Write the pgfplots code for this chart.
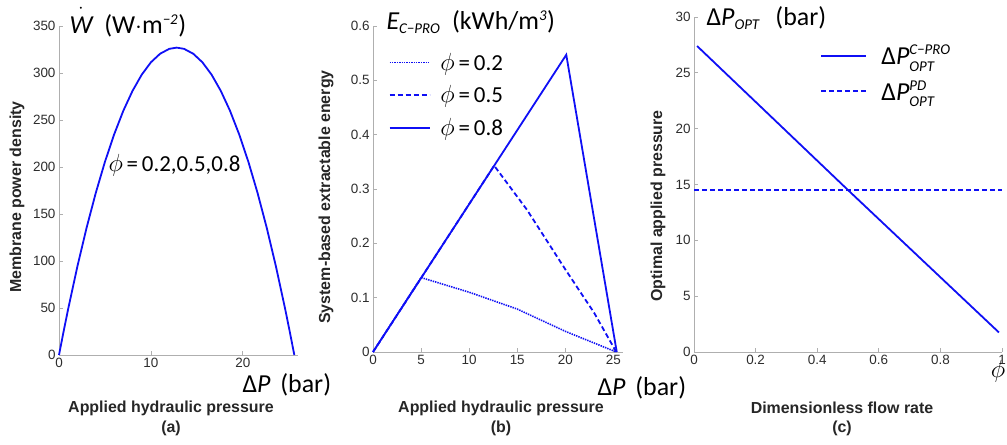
\documentclass[border=0pt]{standalone}
\usepackage{pgfplots}
\pgfplotsset{compat=1.18}
\usepackage{fontspec}
\setmainfont{Liberation Sans}
\newfontfamily\calib{Carlito}
\definecolor{lineblue}{RGB}{15,15,245}
\definecolor{axgray}{RGB}{175,175,175}
\definecolor{tickgray}{RGB}{45,45,45}
\pgfplotsset{
  mystyle/.style={
    scale only axis, anchor=south west,
    axis lines=left, axis line style={-, draw=axgray, line width=0.9bp},
    tick align=inside, major tick length=4bp, tick style={draw=axgray, line width=0.8bp},
    tick label style={font=\fontsize{13.5}{13.5}\selectfont, text=tickgray},
    /pgf/number format/assume math mode=true,
    clip=false,
    legend cell align=left,
  },
  bl/.style={draw=lineblue, color=lineblue, line width=1.8bp, no marks},
}
\newcommand{\blab}{\bfseries\fontsize{16}{16}\selectfont\color{black!85}}
\newcommand{\myBigLab}{\calib\fontsize{26}{26}\selectfont}
\newcommand{\ci}[1]{\mbox{\calib\itshape #1}}
\newcommand{\cis}[1]{\mbox{\calib\itshape\fontsize{15}{15}\selectfont #1}}
\begin{document}
\begin{tikzpicture}[x=1bp,y=1bp]
\path[use as bounding box] (0,0) rectangle (1007,445);
% ---------- (a)
\begin{axis}[mystyle, at={(59bp,90bp)}, width=239bp, height=329bp,
  xmin=0, xmax=26, ymin=0, ymax=350,
  xtick={0,10,20}, ytick={0,50,...,350}]
\addplot[bl] coordinates {(0,0) (0.5,25.0) (1,49.1) (2,94.2) (3,135.3) (4,172.4) (5,205.6) (6,234.7) (7,259.9) (8,281.0) (9,298.2) (10,311.4) (11,320.5) (12,325.7) (12.8,327) (13.6,325.7) (14.6,320.5) (15.6,311.4) (16.6,298.2) (17.6,281.0) (18.6,259.9) (19.6,234.7) (20.6,205.6) (21.6,172.4) (22.6,135.3) (23.6,94.2) (24.6,49.1) (25.1,25.0) (25.6,0)};
\end{axis}
\node[anchor=base west] at (66,411) {\myBigLab $\dot{\vphantom{\rule{0pt}{21bp}}\ci{W}}$\ \ (W$\cdot$m$^{\cis{−2}}$)};
\node[anchor=west] at (105,280) {\calib\fontsize{23}{23}\selectfont $\phi$\,=\,0.2,0.5,0.8};
\node[anchor=west] at (239,60) {\myBigLab Δ\textit{P}\hspace{4bp} (bar)};
\node at (171,37) {\blab Applied hydraulic pressure};
\node at (171,17) {\blab (a)};
\node[rotate=90] at (17,248) {\blab Membrane power density};
% ---------- (b)
\begin{axis}[mystyle, at={(373bp,93bp)}, width=250bp, height=326bp,
  xmin=0, xmax=26, ymin=0, ymax=0.6,
  xtick={0,5,...,25}, ytick={0,0.1,...,0.6},
  legend style={draw=none, fill=none, at={(axis description cs:0.05,0.93)}, anchor=north west,
    font=\calib\fontsize{23}{23}\selectfont, row sep=10bp},
  legend image code/.code={\draw[#1] (0bp,0bp) -- (40bp,0bp);}]
\addplot[bl, line width=1.6bp, dash pattern=on 1.4bp off 1bp] coordinates {(0,0) (5.0,0.137) (10,0.110) (15,0.079) (20,0.038) (25.3,0)};
\addlegendentry{\hspace{8bp}$\phi$\,=\,0.2}
\addplot[bl, dash pattern=on 5bp off 3bp] coordinates {(0,0) (12.6,0.343) (16,0.262) (20,0.152) (23,0.072) (25.3,0)};
\addlegendentry{\hspace{8bp}$\phi$\,=\,0.5}
\addplot[bl] coordinates {(0,0) (20.1,0.547) (25.35,0)};
\addlegendentry{\hspace{8bp}$\phi$\,=\,0.8}
\end{axis}
\node[anchor=west] at (383,423) {\myBigLab \ci{E}$_{\cis{C−PRO}}$\ \ (kWh/m$^{\cis{3}}$)};
\node[anchor=west] at (594,57) {\myBigLab Δ\textit{P}\hspace{4bp} (bar)};
\node at (501,37) {\blab Applied hydraulic pressure};
\node at (501,17) {\blab (b)};
\node[rotate=90] at (326,248) {\blab System-based extractable energy};
% ---------- (c)
\begin{axis}[mystyle, at={(694bp,93bp)}, width=308bp, height=335bp,
  xmin=0, xmax=1, ymin=0, ymax=30,
  xtick={0,0.2,...,1}, ytick={0,5,...,30},
  xticklabels={0,0.2,0.4,0.6,0.8,1},
  legend style={draw=none, fill=none, at={(axis description cs:0.40,0.928)}, anchor=north west,
    font=\calib\fontsize{26}{26}\selectfont, row sep=10bp},
  legend image code/.code={\draw[#1] (0bp,0bp) -- (45bp,0bp);}]
\addplot[bl] coordinates {(0.01,27.4) (0.5,14.5) (0.99,1.75)};
\addlegendentry{\hspace{12bp}Δ$\ci{P}^{\cis{C−PRO}}_{\cis{OPT}}$}
\addplot[bl, line width=2bp, dash pattern=on 5bp off 3bp] coordinates {(0,14.55) (1,14.55)};
\addlegendentry{\hspace{12bp}Δ$\ci{P}^{\cis{PD}}_{\cis{OPT}}$}
\end{axis}
\node[anchor=west] at (703,427) {\myBigLab Δ\ci{P}$_{\cis{OPT}}$\hspace{4bp}\ \ (bar)};
\node[anchor=base] at (998,67) {\myBigLab $\phi$};
\node at (842,37) {\blab Dimensionless flow rate};
\node at (842,17) {\blab (c)};
\node[rotate=90] at (658,239) {\blab Optimal applied pressure};
\end{tikzpicture}
\end{document}
